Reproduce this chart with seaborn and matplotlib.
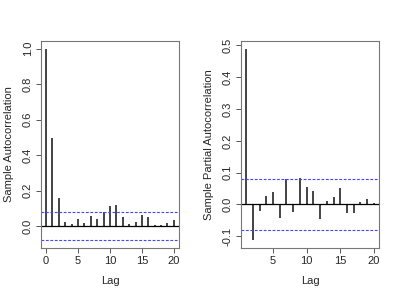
import numpy as np
import pandas as pd
import seaborn as sns
import matplotlib
matplotlib.use("Agg")
import matplotlib.pyplot as plt

# ACF / PACF values
acf_lags = list(range(0, 21))
acf_vals = [1.0, 0.496, 0.159, 0.022, 0.011, 0.041, 0.017, 0.056, 0.041, 0.082,
            0.114, 0.118, 0.052, 0.011, 0.026, 0.064, 0.051, 0.006, 0.004, 0.020, 0.037]
pacf_lags = list(range(1, 21))
pacf_vals = [0.490, -0.113, -0.020, 0.028, 0.038, -0.042, 0.081, -0.025, 0.082, 0.054,
             0.041, -0.045, 0.012, 0.023, 0.053, -0.026, -0.026, 0.009, 0.018, 0.005]
conf = 0.08

sns.set_theme(style="white")
plt.rcParams['font.family'] = ['Liberation Sans', 'DejaVu Sans']

fig = plt.figure(figsize=(4, 3), dpi=100)
ax1 = fig.add_axes([41/400, 52/300, 138/400, 207/300])
ax2 = fig.add_axes([241/400, 52/300, 138/400, 207/300])

acf = pd.DataFrame({"lag": acf_lags, "val": acf_vals})
pacf = pd.DataFrame({"lag": pacf_lags, "val": pacf_vals})


def r_axes(ax, df, ylab, yticks, xticks):
    ax.vlines(df["lag"], 0, df["val"], color="#111111", lw=1.1)
    ax.axhline(0, color="black", lw=0.9)
    ax.axhline(conf, color="#4444ff", lw=0.8, ls=(0, (2.5, 1.5)))
    ax.axhline(-conf, color="#4444ff", lw=0.8, ls=(0, (2.5, 1.5)))
    lo = min(df["val"].min(), -conf)
    hi = max(df["val"].max(), conf)
    pad = (hi - lo) * 0.04
    ax.set_ylim(lo - pad, hi + pad)
    x0, x1 = df["lag"].min(), df["lag"].max()
    xp = (x1 - x0) * 0.04
    ax.set_xlim(x0 - xp, x1 + xp)
    ax.set_xticks(xticks)
    ax.set_yticks(yticks)
    ax.set_yticklabels([f"{t:.1f}" for t in yticks], rotation=90, va="center")
    ax.tick_params(axis="both", direction="out", length=3.5, width=0.7,
                   color="#555555", labelsize=8, pad=2.5, left=True, bottom=True)
    for s in ax.spines.values():
        s.set_color("#777777")
        s.set_linewidth(0.8)
    ax.set_xlabel("Lag", fontsize=8, labelpad=7)
    ax.set_ylabel(ylab, fontsize=8, labelpad=6)


r_axes(ax1, acf, "Sample Autocorrelation", [0.0, 0.2, 0.4, 0.6, 0.8, 1.0], [0, 5, 10, 15, 20])
r_axes(ax2, pacf, "Sample Partial Autocorrelation", [-0.1, 0.0, 0.1, 0.2, 0.3, 0.4, 0.5], [5, 10, 15, 20])

fig.savefig("out.png", dpi=100)
